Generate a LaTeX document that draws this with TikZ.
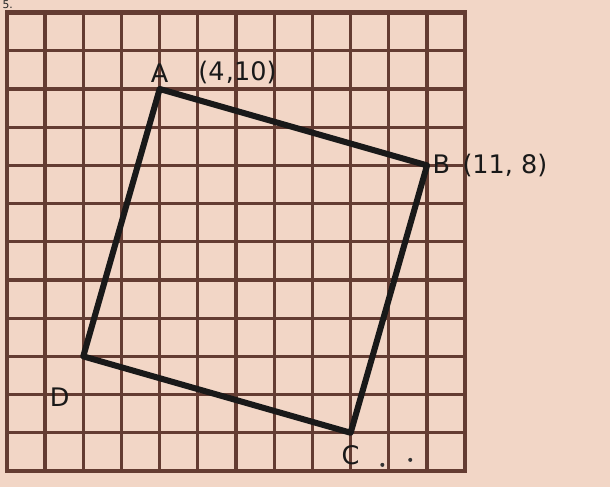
\documentclass[tikz,border=0pt]{standalone}
\usepackage{fontspec}
\setmainfont{DejaVu Sans}
\usetikzlibrary{positioning}
\definecolor{paper}{RGB}{242,214,198}
\definecolor{gridbrown}{RGB}{100,60,50}
\tikzset{
    gridline/.style={draw=gridbrown, line width=2.4pt},
    sqline/.style={draw=black!90, line width=4.5pt, line join=round, line cap=round},
    hand/.style={font=\fontsize{19}{22}\selectfont, text=black!90, inner sep=1pt},
    speck/.style={circle, fill=black!80, inner sep=0pt, minimum size=3pt},
}

\begin{document}
\begin{tikzpicture}
    \fill[paper] (-0.18,-0.42) rectangle (15.79,12.33);
    \useasboundingbox (-0.18,-0.42) rectangle (15.79,12.33);
    \node[font=\fontsize{8}{9}\selectfont, text=black!85, inner sep=0pt, anchor=north west] (num) at (-0.12,12.31) {5.};
    \draw[gridline] (0,0) grid (12,12);
    \draw[gridline, line width=3.2pt] (0,0) rectangle (12,12);
    \coordinate (A) at (4,10);
    \coordinate (B) at (11,8);
    \coordinate (C) at (9,1);
    \coordinate (D) at (2,3);
    \draw[sqline] (A) -- (B) -- (C) -- (D) -- cycle;
    \node[hand, above=4pt of A] (Alab) {A};
    \node[hand, right=20pt of Alab] (Acoord) {(4{\kern1pt},10)};
    \node[hand, right=3pt of B] (Blab) {B\,\ (11, 8)};
    \node[hand, below left=22pt and 9pt of D] (Dlab) {D};
    \node[hand, below=8pt of C] (Clab) {C};
    \node[speck] (s1) at (9.83,0.16) {};
    \node[speck] (s2) at (10.56,0.29) {};
\end{tikzpicture}
\end{document}
